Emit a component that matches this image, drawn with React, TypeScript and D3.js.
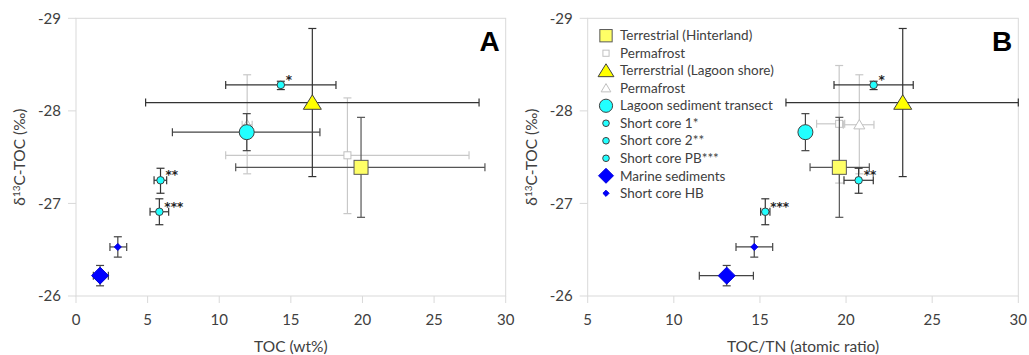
import React from 'react';
import * as d3 from 'd3';

// series, in legend order
const seriesNames = [
  'Terrestrial (Hinterland)',
  'Permafrost',
  'Terrerstrial (Lagoon shore)',
  'Permafrost',
  'Lagoon sediment transect',
  'Short core 1*',
  'Short core 2**',
  'Short core PB***',
  'Marine sediments',
  'Short core HB',
];
const seriesTags = ['', '', '', '', '', '*', '**', '***', '', ''];

// panel A: TOC (wt%)
const tocVal = [19.9, 18.95, 16.5, 11.95, 11.92, 14.3, 5.9, 5.82, 1.68, 2.92];
const tocLo = [11.15, 10.45, 4.86, 11.6, 6.73, 10.45, 5.45, 5.17, 1.21, 2.37];
const tocHi = [28.55, 27.44, 28.14, 12.3, 17.03, 18.15, 6.33, 6.47, 2.26, 3.54];
const d13cA = [-27.39, -27.52, -28.09, -27.85, -27.77, -28.28, -27.25, -26.91, -26.22, -26.53];
const d13cALo = [-27.93, -28.14, -28.89, -28.39, -27.97, -28.32, -27.38, -27.05, -26.33, -26.64];
const d13cAHi = [-26.85, -26.89, -27.29, -27.32, -27.57, -28.23, -27.11, -26.77, -26.11, -26.42];

// panel B: TOC/TN (atomic ratio)
const ctnVal = [19.61, 19.6, 23.29, 20.77, 17.64, 21.6, 20.73, 15.31, 13.07, 14.67];
const ctnLo = [17.91, 18.29, 16.51, 19.84, 17.64, 19.3, 19.88, 15.04, 11.48, 13.61];
const ctnHi = [21.35, 19.92, 30.0, 21.62, 17.64, 23.9, 21.58, 15.58, 14.62, 15.74];
const d13cB = [-27.39, -27.86, -28.09, -27.85, -27.77, -28.28, -27.25, -26.91, -26.22, -26.53];
const d13cBLo = [-27.93, -28.49, -28.89, -28.39, -27.97, -28.32, -27.38, -27.05, -26.33, -26.64];
const d13cBHi = [-26.85, -27.22, -27.29, -27.32, -27.57, -28.23, -27.11, -26.77, -26.11, -26.42];

const yTicks = [-29, -28, -27, -26];
const xTicksA = [0, 5, 10, 15, 20, 25, 30];
const xTicksB = [5, 10, 15, 20, 25, 30];

type Style = { shape: string; size: number; fill: string; stroke: string; bar: string };

const styles: Style[] = [
  { shape: 'square', size: 14, fill: '#ffff66', stroke: '#595959', bar: '#555' },
  { shape: 'square', size: 7, fill: '#fff', stroke: '#c0c0c0', bar: '#c8c8c8' },
  { shape: 'triangle', size: 18, fill: '#ffff00', stroke: '#404040', bar: '#333' },
  { shape: 'triangle', size: 11, fill: '#fff', stroke: '#c0c0c0', bar: '#c8c8c8' },
  { shape: 'circle', size: 15, fill: '#22ffff', stroke: '#404040', bar: '#444' },
  { shape: 'circle', size: 7.5, fill: '#22ffff', stroke: '#404040', bar: '#333' },
  { shape: 'circle', size: 7.5, fill: '#22ffff', stroke: '#404040', bar: '#333' },
  { shape: 'circle', size: 7.5, fill: '#22ffff', stroke: '#404040', bar: '#333' },
  { shape: 'diamond', size: 17, fill: '#0000ff', stroke: '#0000dd', bar: '#444' },
  { shape: 'diamond', size: 7, fill: '#0000ff', stroke: '#0000dd', bar: '#444' },
];

// gray permafrost series drawn first
const drawOrder = [1, 3, 0, 2, 4, 5, 6, 7, 8, 9];

const font = 'Lato, "Open Sans", sans-serif';

function Marker({ s, x, y, scale = 1 }: { s: Style; x: number; y: number; scale?: number }) {
  const r = (s.size * scale) / 2;
  if (s.shape === 'square')
    return <rect x={x - r} y={y - r} width={2 * r} height={2 * r} fill={s.fill} stroke={s.stroke} strokeWidth={1} />;
  if (s.shape === 'circle') return <circle cx={x} cy={y} r={r} fill={s.fill} stroke={s.stroke} strokeWidth={1} />;
  if (s.shape === 'triangle') {
    const h = r * 1.5;
    return (
      <path
        d={`M${x},${y - h / 2 - 1}L${x + r},${y + h / 2}L${x - r},${y + h / 2}Z`}
        fill={s.fill}
        stroke={s.stroke}
        strokeWidth={1}
      />
    );
  }
  return (
    <path d={`M${x},${y - r}L${x + r},${y}L${x},${y + r}L${x - r},${y}Z`} fill={s.fill} stroke={s.stroke} strokeWidth={1} />
  );
}

function Panel(props: {
  x: d3.ScaleLinear<number, number>;
  y: d3.ScaleLinear<number, number>;
  xTicks: number[];
  xv: number[];
  xlo: number[];
  xhi: number[];
  yv: number[];
  ylo: number[];
  yhi: number[];
  xTitle: string;
  letter: string;
}) {
  const { x, y } = props;
  const [x0, x1] = x.range();
  const [y0, y1] = y.range();
  const cap = 4;
  const bars = (i: number) => {
    const px = x(props.xv[i]);
    const py = y(props.yv[i]);
    const c = styles[i].bar;
    const xl = x(props.xlo[i]);
    const xh = x(props.xhi[i]);
    const yl = y(props.ylo[i]);
    const yh = y(props.yhi[i]);
    return (
      <g key={'b' + i} stroke={c} strokeWidth={1.2} fill="none">
        {xh - xl > 1 && (
          <>
            <line x1={xl} x2={xh} y1={py} y2={py} />
            <line x1={xl} x2={xl} y1={py - cap} y2={py + cap} />
            <line x1={xh} x2={xh} y1={py - cap} y2={py + cap} />
          </>
        )}
        <line x1={px} x2={px} y1={yl} y2={yh} />
        <line x1={px - cap} x2={px + cap} y1={yl} y2={yl} />
        <line x1={px - cap} x2={px + cap} y1={yh} y2={yh} />
      </g>
    );
  };
  return (
    <g>
      <rect x={x0} y={y0} width={x1 - x0} height={y1 - y0} fill="none" stroke="#d9d9d9" strokeWidth={1} />
      {yTicks.map((t) => (
        <g key={'y' + t}>
          <line x1={x0 - 8} x2={x0} y1={y(t)} y2={y(t)} stroke="#d9d9d9" />
          <text x={x0 - 15} y={y(t)} dy="0.35em" textAnchor="end" fontSize={15} fill="#404040" fontFamily={font}>
            {t}
          </text>
        </g>
      ))}
      {props.xTicks.map((t) => (
        <g key={'x' + t}>
          <line x1={x(t)} x2={x(t)} y1={y1} y2={y1 + 7} stroke="#d9d9d9" />
          <text x={x(t)} y={y1 + 29} textAnchor="middle" fontSize={15} fill="#404040" fontFamily={font}>
            {t}
          </text>
        </g>
      ))}
      <text
        transform={`translate(${x0 - 56},${(y0 + y1) / 2}) rotate(-90)`}
        textAnchor="middle"
        dy="0.35em"
        fontSize={15.5}
        fill="#404040"
        fontFamily={font}
      >
        δ<tspan fontSize={10} dy={-5}>13</tspan>
        <tspan dy={5}>C-TOC (‰)</tspan>
      </text>
      <text x={(x0 + x1) / 2} y={352} textAnchor="middle" fontSize={15.5} fill="#404040" fontFamily={font}>
        {props.xTitle}
      </text>
      <text x={x1 - 6} y={51} textAnchor="end" fontSize={28} fontWeight="bold" fill="#000" fontFamily="'Liberation Sans', Arial, sans-serif">
        {props.letter}
      </text>
      {drawOrder.slice(0, 2).map(bars)}
      {drawOrder.slice(0, 2).map((i) => (
        <Marker key={'m' + i} s={styles[i]} x={x(props.xv[i])} y={y(props.yv[i])} />
      ))}
      {drawOrder.slice(2).map(bars)}
      {drawOrder.slice(2).map((i) => (
        <Marker key={'m' + i} s={styles[i]} x={x(props.xv[i])} y={y(props.yv[i])} />
      ))}
      {drawOrder
        .filter((i) => seriesTags[i])
        .map((i) => (
          <text
            key={'t' + i}
            x={x(props.xv[i]) + 5}
            y={y(props.yv[i]) - 1}
            fontSize={12}
            fontWeight="bold"
            fill="#222"
            fontFamily="'DejaVu Sans', sans-serif"
          >
            {seriesTags[i]}
          </text>
        ))}
    </g>
  );
}

export default function App() {
  const y = d3.scaleLinear().domain([-29, -26]).range([18.3, 296]);
  const xA = d3.scaleLinear().domain([0, 30]).range([76, 505.7]);
  const xB = d3.scaleLinear().domain([5, 30]).range([587.7, 1018.3]);
  const legendY = d3.scaleLinear().domain([0, 9]).range([35.7, 193.3]);

  return (
    <svg width={1029} height={355} style={{ position: 'absolute', left: 0, top: 0, background: '#fff' }}>
      <Panel
        x={xA}
        y={y}
        xTicks={xTicksA}
        xv={tocVal}
        xlo={tocLo}
        xhi={tocHi}
        yv={d13cA}
        ylo={d13cALo}
        yhi={d13cAHi}
        xTitle="TOC (wt%)"
        letter="A"
      />
      <Panel
        x={xB}
        y={y}
        xTicks={xTicksB}
        xv={ctnVal}
        xlo={ctnLo}
        xhi={ctnHi}
        yv={d13cB}
        ylo={d13cBLo}
        yhi={d13cBHi}
        xTitle="TOC/TN (atomic ratio)"
        letter="B"
      />
      <g>
        {seriesNames.map((n, i) => (
          <g key={'l' + i}>
            <Marker s={styles[i]} x={606} y={legendY(i)} scale={0.88} />
            <text x={620} y={legendY(i)} dy="0.35em" fontSize={13.5} fill="#404040" fontFamily={font}>
              {n}
            </text>
          </g>
        ))}
      </g>
    </svg>
  );
}
